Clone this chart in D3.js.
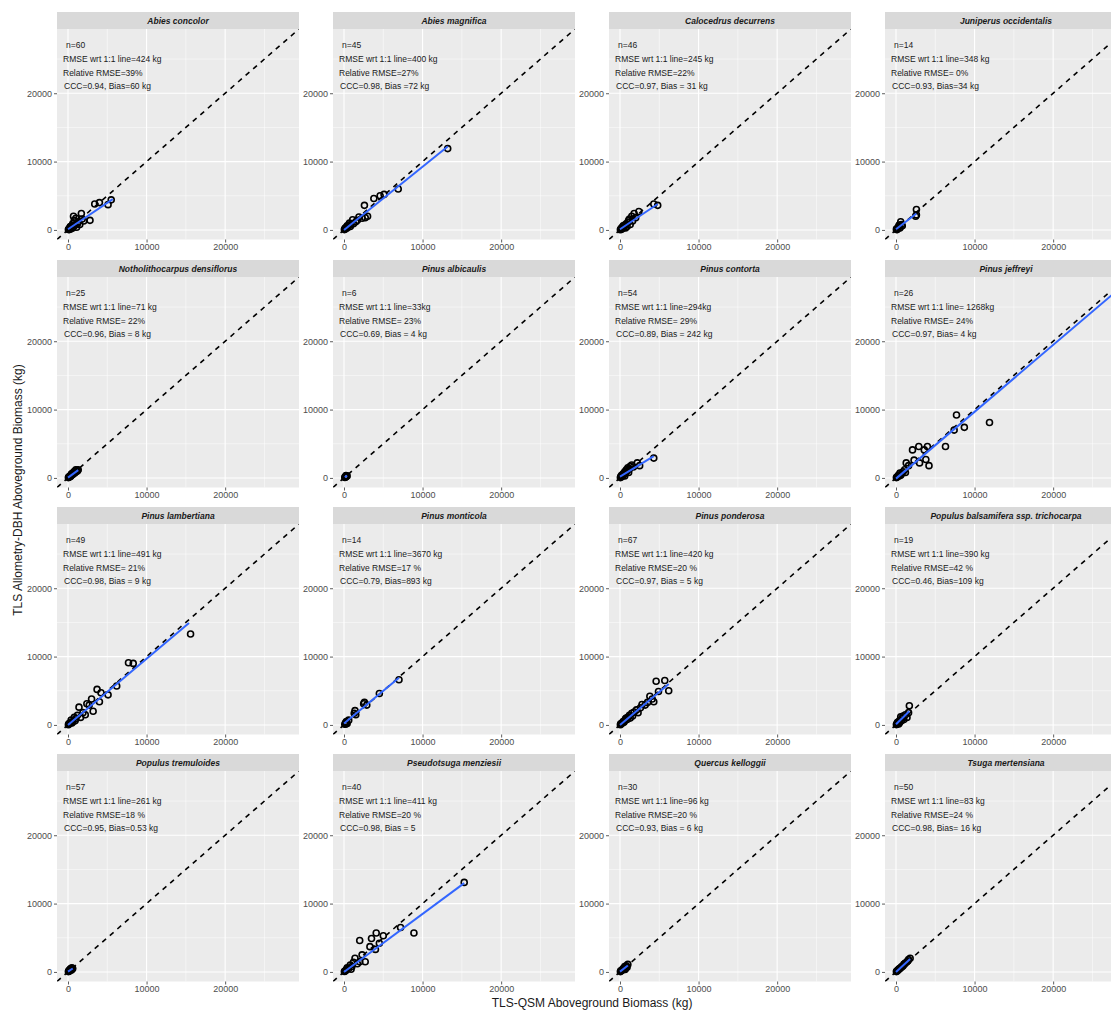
<!DOCTYPE html>
<html>
<head>
<meta charset="utf-8">
<script src="https://cdn.jsdelivr.net/npm/d3@7"></script>
<style>
body { margin: 0; background: #fff; }
text { font-family: "Liberation Sans", Arial, sans-serif; }
</style>
</head>
<body>
<div id="chart"></div>
<script>
// Data (kg)
const species = ["Abies concolor", "Abies magnifica", "Calocedrus decurrens", "Juniperus occidentalis",
    "Notholithocarpus densiflorus", "Pinus albicaulis", "Pinus contorta", "Pinus jeffreyi",
    "Pinus lambertiana", "Pinus monticola", "Pinus ponderosa", "Populus balsamifera ssp. trichocarpa",
    "Populus tremuloides", "Pseudotsuga menziesii", "Quercus kelloggii", "Tsuga mertensiana"];

const nText = ["n=60", "n=45", "n=46", "n=14", "n=25", "n=6", "n=54", "n=26",
    "n=49", "n=14", "n=67", "n=19", "n=57", "n=40", "n=30", "n=50"];
const rmseText = ["RMSE wrt 1:1 line=424 kg", "RMSE wrt 1:1 line=400 kg", "RMSE wrt 1:1 line=245 kg", "RMSE wrt 1:1 line=348 kg",
    "RMSE wrt 1:1 line=71 kg", "RMSE wrt 1:1 line=33kg", "RMSE wrt 1:1 line=294kg", "RMSE wrt 1:1 line= 1268kg",
    "RMSE wrt 1:1 line=491 kg", "RMSE wrt 1:1 line=3670 kg", "RMSE wrt 1:1 line=420 kg", "RMSE wrt 1:1 line=390 kg",
    "RMSE wrt 1:1 line=261 kg", "RMSE wrt 1:1 line=411 kg", "RMSE wrt 1:1 line=96 kg", "RMSE wrt 1:1 line=83 kg"];
const relText = ["Relative RMSE=39%", "Relative RMSE=27%", "Relative RMSE=22%", "Relative RMSE= 0%",
    "Relative RMSE= 22%", "Relative RMSE= 23%", "Relative RMSE= 29%", "Relative RMSE= 24%",
    "Relative RMSE= 21%", "Relative RMSE=17 %", "Relative RMSE=20 %", "Relative RMSE=42 %",
    "Relative RMSE=18 %", "Relative RMSE=20 %", "Relative RMSE=20 %", "Relative RMSE=24 %"];
const cccText = ["CCC=0.94, Bias=60 kg", "CCC=0.98, Bias =72 kg", "CCC=0.97, Bias = 31 kg", "CCC=0.93, Bias=34 kg",
    "CCC=0.96, Bias = 8 kg", "CCC=0.69, Bias = 4 kg", "CCC=0.89, Bias = 242 kg", "CCC=0.97, Bias= 4 kg",
    "CCC=0.98, Bias = 9 kg", "CCC=0.79, Bias=893 kg", "CCC=0.97, Bias = 5 kg", "CCC=0.46, Bias=109 kg",
    "CCC=0.95, Bias=0.53 kg", "CCC=0.98, Bias = 5", "CCC=0.93, Bias = 6 kg", "CCC=0.98, Bias= 16 kg"];

// [QSM, allometry] pairs per species
const abiesConcolor = [[5500,4400],[5100,3700],[4000,4000],[3400,3800],[2800,1400],[1700,2400],[700,2000],[1300,1200],
    [1000,1700],[800,1400],[600,900],[500,600],[400,300],[300,500],[200,200],[100,100],[150,50],[900,700],[1200,900],
    [1500,800],[2000,1300],[250,400],[600,300],[1100,400],[350,150],[50,60],[700,500],[1800,1600]];
const abiesMagnifica = [[13200,11900],[6900,6000],[5100,5200],[4600,5000],[3800,4600],[2600,3600],[3000,2000],[2300,1700],
    [1900,1900],[1500,1200],[1100,1500],[2700,1800],[1700,1400],[900,800],[700,1000],[500,400],[400,600],[300,200],
    [200,300],[100,100],[600,700],[1200,900],[800,500],[150,250],[50,50]];
const calocedrus = [[4800,3600],[4300,3800],[2400,2700],[1800,2400],[2000,1800],[1500,2000],[1600,1300],[1200,1600],
    [1000,1100],[800,900],[1300,800],[600,700],[500,400],[400,600],[300,200],[200,300],[100,100],[700,300],[900,500],
    [1100,1400],[250,150],[50,40]];
const juniperus = [[2600,3000],[2600,2200],[2500,2000],[600,1200],[400,700],[700,800],[300,400],[500,300],[200,200],
    [100,150],[800,600],[350,500],[150,50],[50,80]];
const notholithocarpus = [[1300,1200],[1200,1000],[1100,1100],[1000,900],[900,800],[800,700],[700,750],[600,500],
    [500,550],[400,400],[300,300],[250,200],[200,250],[150,100],[100,120],[50,50],[1000,1200],[750,900],[450,600],
    [350,250],[900,1000]];
const pinusAlbicaulis = [[200,150],[300,250],[100,80],[400,300],[250,350],[150,100]];
const pinusContorta = [[4300,2900],[2200,2200],[1500,1900],[1700,1600],[1300,1700],[1200,1300],[1000,1500],[900,1000],
    [800,1200],[700,700],[600,900],[500,500],[400,600],[300,300],[200,400],[150,150],[100,200],[1100,800],[50,50],
    [2500,1800],[600,300]];
const pinusJeffreyi = [[7700,9200],[8700,7400],[7400,7000],[11900,8100],[6300,4600],[4000,4600],[2900,4600],[2100,4100],
    [3600,4100],[3800,2700],[4200,1800],[3000,2200],[2300,2600],[1600,1800],[1300,2200],[1100,1200],[900,900],
    [700,600],[500,700],[400,300],[300,400],[200,200],[100,100],[1200,800],[600,400],[50,50]];
const pinusLambertiana = [[15600,13300],[7700,9100],[8300,9000],[6200,5700],[5100,4400],[3700,5200],[4200,4700],[4000,3400],
    [3000,3800],[3200,2000],[2400,3100],[1400,2600],[1600,1100],[2700,2900],[1900,1800],[1200,1400],[1000,900],
    [800,1100],[600,500],[400,700],[300,300],[200,200],[100,150],[500,300],[900,600],[2200,1500],[50,30]];
const pinusMonticola = [[7000,6600],[4500,4600],[2600,3300],[2900,2900],[1400,2100],[1300,1700],[300,500],[2500,3100],
    [1500,1500],[200,300],[400,200],[100,100],[600,700],[250,150]];
const pinusPonderosa = [[5700,6500],[4600,6400],[6200,5000],[4900,4900],[3800,4200],[4300,3400],[3200,2900],[2600,2500],
    [2100,2200],[4100,3800],[3500,3300],[1800,1900],[1500,1700],[1600,1300],[1200,1400],[1000,1100],[900,800],
    [700,900],[600,600],[500,400],[400,500],[300,300],[200,200],[100,150],[1300,1000],[2300,1800],[800,1000],
    [2800,3000],[50,40]];
const populusBalsamifera = [[1700,2800],[1600,1800],[1200,1500],[900,1300],[800,1000],[600,1200],[500,700],[400,500],
    [300,300],[200,400],[100,100],[1000,800],[700,600],[1400,1100],[250,200],[150,250],[350,150],[450,350],[50,50]];
const populusTremuloides = [[600,500],[500,600],[400,400],[300,350],[250,200],[200,300],[150,100],[100,150],[50,50],
    [350,500],[450,300],[550,450]];
const pseudotsuga = [[15300,13100],[8900,5700],[7200,6500],[2000,4600],[4100,5700],[3500,4900],[5000,5300],[4000,3300],
    [3300,3700],[2700,1500],[2000,1500],[1400,2000],[4500,4200],[2300,2500],[1700,1200],[1200,1400],[1000,800],
    [800,1000],[600,500],[400,600],[300,300],[200,200],[100,100],[900,400],[50,60]];
const quercus = [[1000,1100],[900,700],[800,900],[700,600],[600,800],[500,400],[400,500],[300,300],[200,200],[100,150],
    [50,50],[650,350]];
const tsuga = [[1800,2000],[1600,1800],[1400,1500],[1200,1300],[1000,1100],[900,900],[800,800],[700,750],[600,600],
    [500,500],[400,450],[300,300],[200,250],[100,100],[50,50],[1500,1600],[1100,1200]];

const pointSets = [abiesConcolor, abiesMagnifica, calocedrus, juniperus, notholithocarpus, pinusAlbicaulis,
    pinusContorta, pinusJeffreyi, pinusLambertiana, pinusMonticola, pinusPonderosa, populusBalsamifera,
    populusTremuloides, pseudotsuga, quercus, tsuga];

// lm fit segments as seen in the figure: [x0, y0, x1, y1]
const fitLines = [[0,100,5700,4500],[0,0,13200,12200],[0,100,4800,3800],[0,100,2600,2400],
    [0,50,1300,1150],[100,100,400,330],[0,200,4300,3200],[0,-100,29400,28650],
    [0,0,15400,14900],[0,200,7000,6900],[0,0,6200,6000],[0,100,1700,2000],
    [0,50,600,500],[0,0,15300,13000],[0,50,1000,950],[0,0,1800,1900]];

const majorTicks = [0, 10000, 20000];
const minorTicks = [5000, 15000, 25000];
const axisDomain = [-1400, 29400];
const annotY = [27000, 25000, 23000, 21000];

// Layout
const colX = [57, 333, 609, 885];
const rowY = [12, 260, 507, 754];
const stripH = 17, plotW = 242, plotH = 210.5;
const annotIndent = [9, 6, 6, 7];

const svg = d3.select("#chart")
    .append("svg")
    .attr("width", 1111)
    .attr("height", 1012);

svg.append("defs").append("clipPath")
    .attr("id", "panelClip")
    .append("rect")
    .attr("width", plotW)
    .attr("height", plotH);

const x = d3.scaleLinear().domain(axisDomain).range([0, plotW]);
const y = d3.scaleLinear().domain(axisDomain).range([plotH, 0]);

const line = d3.line()
    .x(d => x(d[0]))
    .y(d => y(d[1]));

species.forEach((name, i) => {
    const col = i % 4, row = Math.floor(i / 4);
    const g = svg.append("g")
        .attr("transform", `translate(${colX[col]},${rowY[row] + stripH})`);

    //strip
    g.append("rect")
        .attr("x", 0).attr("y", -stripH)
        .attr("width", plotW).attr("height", stripH)
        .attr("fill", "#d9d9d9");
    g.append("text")
        .attr("x", plotW / 2).attr("y", -stripH / 2 + 3)
        .attr("text-anchor", "middle")
        .attr("font-size", "8.5px")
        .attr("font-weight", "bold")
        .attr("font-style", "italic")
        .attr("fill", "#1a1a1a")
        .text(name);

    //panel background + grid
    g.append("rect")
        .attr("width", plotW).attr("height", plotH)
        .attr("fill", "#ebebeb");

    g.selectAll(".minorV").data(minorTicks).enter().append("line")
        .attr("x1", d => x(d)).attr("x2", d => x(d))
        .attr("y1", 0).attr("y2", plotH)
        .attr("stroke", "#fff").attr("stroke-width", 0.5);
    g.selectAll(".minorH").data(minorTicks).enter().append("line")
        .attr("y1", d => y(d)).attr("y2", d => y(d))
        .attr("x1", 0).attr("x2", plotW)
        .attr("stroke", "#fff").attr("stroke-width", 0.5);
    g.selectAll(".majorV").data(majorTicks).enter().append("line")
        .attr("x1", d => x(d)).attr("x2", d => x(d))
        .attr("y1", 0).attr("y2", plotH)
        .attr("stroke", "#fff").attr("stroke-width", 1.1);
    g.selectAll(".majorH").data(majorTicks).enter().append("line")
        .attr("y1", d => y(d)).attr("y2", d => y(d))
        .attr("x1", 0).attr("x2", plotW)
        .attr("stroke", "#fff").attr("stroke-width", 1.1);

    //axes
    const yAxis = g.append("g")
        .call(d3.axisLeft(y).tickValues(majorTicks).tickSize(3).tickPadding(2).tickFormat(d3.format("d")));
    const xAxis = g.append("g")
        .attr("transform", `translate(0,${plotH})`)
        .call(d3.axisBottom(x).tickValues(majorTicks).tickSize(3).tickPadding(1).tickFormat(d3.format("d")));
    [xAxis, yAxis].forEach(a => {
        a.select(".domain").remove();
        a.selectAll(".tick line").attr("stroke", "#333").attr("stroke-width", 0.8);
        a.selectAll(".tick text")
            .attr("fill", "#4d4d4d")
            .style("font-size", "9px")
            .style("font-family", "'Liberation Sans', Arial, sans-serif");
    });

    const inner = g.append("g").attr("clip-path", "url(#panelClip)");

    // 1:1 line
    inner.append("path")
        .datum([[axisDomain[0], axisDomain[0]], [axisDomain[1], axisDomain[1]]])
        .attr("d", line)
        .attr("fill", "none")
        .attr("stroke", "#000")
        .attr("stroke-width", 1.6)
        .attr("stroke-dasharray", "5,5");

    inner.selectAll("circle")
        .data(pointSets[i])
        .enter()
        .append("circle")
        .attr("cx", d => x(d[0]))
        .attr("cy", d => y(d[1]))
        .attr("r", 3)
        .attr("fill", "none")
        .attr("stroke", "#000")
        .attr("stroke-width", 1.6);

    const f = fitLines[i];
    inner.append("path")
        .datum([[f[0], f[1]], [f[2], f[3]]])
        .attr("d", line)
        .attr("fill", "none")
        .attr("stroke", "#3366ff")
        .attr("stroke-width", 2);

    //stats text
    const lines = [nText[i], rmseText[i], relText[i], cccText[i]];
    g.selectAll(".stat").data(lines).enter().append("text")
        .attr("x", (d, k) => annotIndent[k])
        .attr("y", (d, k) => y(annotY[k]) + 3)
        .attr("font-size", "8.5px")
        .attr("fill", "#1a1a1a")
        .text(d => d);
});

// axis titles
svg.append("text")
    .attr("x", 592).attr("y", 1007)
    .attr("text-anchor", "middle")
    .attr("font-size", "12px")
    .attr("fill", "#1a1a1a")
    .text("TLS-QSM Aboveground Biomass (kg)");

svg.append("text")
    .attr("transform", "translate(22,490) rotate(-90)")
    .attr("text-anchor", "middle")
    .attr("font-size", "12px")
    .attr("fill", "#1a1a1a")
    .text("TLS Allometry-DBH Aboveground Biomass (kg)");
</script>
</body>
</html>
